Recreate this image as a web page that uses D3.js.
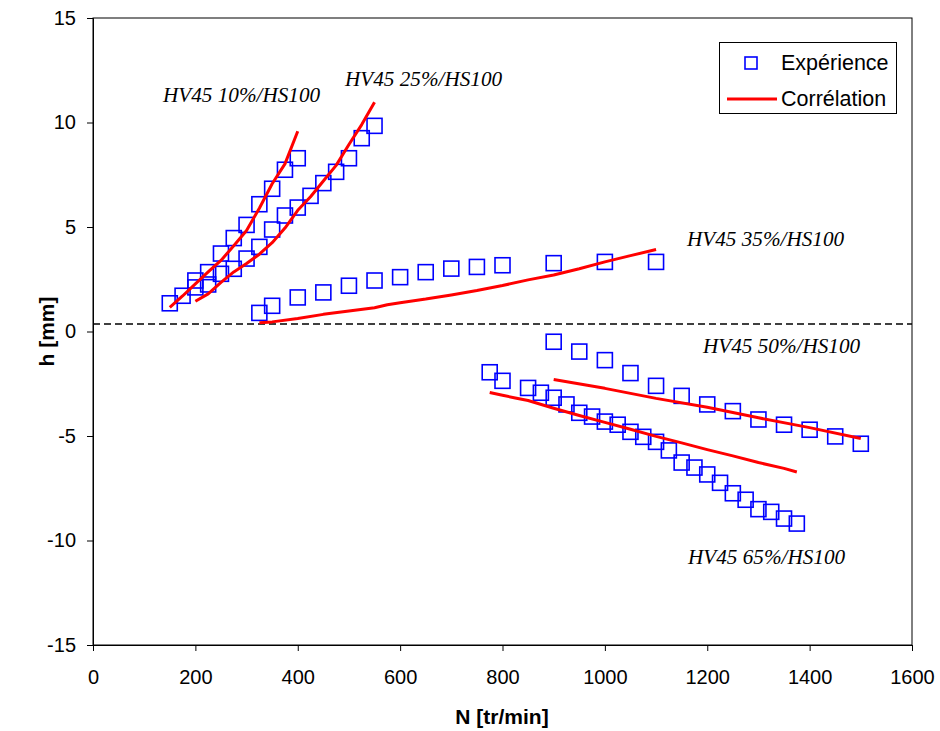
<!DOCTYPE html>
<html><head><meta charset="utf-8">
<script src="https://cdn.jsdelivr.net/npm/d3@7"></script>
<style>body{margin:0;background:#fff}</style>
</head><body>
<svg id="chart" width="940" height="731"></svg>
<script>
// ---- data ----
const xTicks = [0,200,400,600,800,1000,1200,1400,1600];
const yTicks = [-15,-10,-5,0,5,10,15];
const refLevel = 0.36;

const labels10 = "HV45 10%/HS100";
const labels25 = "HV45 25%/HS100";
const labels35 = "HV45 35%/HS100";
const labels50 = "HV45 50%/HS100";
const labels65 = "HV45 65%/HS100";

// Expérience
const exp10N = [150,175,200,225,250,275,300,325,350,375,400];
const exp10H = [1.35,1.71,2.44,2.84,3.73,4.47,5.10,6.09,6.83,7.74,8.29];
const exp25N = [200,225,250,275,300,325,350,375,400,425,450,475,500,525,550];
const exp25H = [2.11,2.25,2.76,3.00,3.49,4.05,4.88,5.55,5.93,6.49,7.10,7.64,8.29,9.25,9.84];
const exp35N = [325,350,400,450,500,550,600,650,700,750,800,900,1000,1100];
const exp35H = [0.89,1.23,1.63,1.87,2.19,2.44,2.60,2.84,3.01,3.09,3.17,3.27,3.33,3.33];
const exp50N = [900,950,1000,1050,1100,1150,1200,1250,1300,1350,1400,1450,1500];
const exp50H = [-0.49,-0.96,-1.37,-1.99,-2.60,-3.08,-3.49,-3.81,-4.21,-4.46,-4.70,-5.02,-5.37];
const exp65N = [775,800,850,875,900,925,950,975,1000,1025,1050,1075,1100,1125,1150,1175,1200,1225,1250,1275,1300,1325,1350,1375];
const exp65H = [-1.95,-2.36,-2.70,-2.93,-3.17,-3.49,-3.89,-4.07,-4.31,-4.46,-4.80,-5.04,-5.28,-5.69,-6.27,-6.51,-6.84,-7.24,-7.74,-8.05,-8.50,-8.63,-8.95,-9.19];

// Corrélation
const cor10N = [150,175,200,225,250,275,300,325,350,375,400];
const cor10H = [1.15,1.70,2.28,2.85,3.40,4.10,4.83,5.90,7.07,8.02,9.58];
const cor25N = [200,225,250,275,300,325,350,375,400,425,450,475,500,525,550];
const cor25H = [1.45,1.80,2.35,2.85,3.25,3.70,4.25,4.95,5.80,6.45,7.20,7.95,8.95,9.90,10.97];
const cor35N = [325,350,400,450,500,550,575,600,650,700,750,800,850,900,950,1000,1050,1100];
const cor35H = [0.42,0.46,0.62,0.82,0.98,1.14,1.28,1.38,1.55,1.75,1.96,2.20,2.47,2.70,3.00,3.33,3.63,3.92];
const cor50N = [900,1000,1100,1200,1300,1400,1500];
const cor50H = [-2.30,-2.72,-3.20,-3.62,-4.13,-4.60,-5.12];
const cor65N = [775,800,825,850,900,950,1000,1050,1100,1150,1200,1250,1300,1350,1375];
const cor65H = [-2.92,-3.05,-3.18,-3.30,-3.67,-4.02,-4.35,-4.68,-5.02,-5.33,-5.65,-5.95,-6.27,-6.55,-6.72];

const legendNames = ["Expérience","Corrélation"];

// ---- chart ----
const W = 940, H = 731;
const m = {left:93, top:18, right:28, bottom:86};
const svg = d3.select("#chart");
const x = d3.scaleLinear().domain([0,1600]).range([m.left, W - m.right]);
const y = d3.scaleLinear().domain([-15,15]).range([H - m.bottom, m.top]);

const zip = (a,b) => a.map((v,i) => [v,b[i]]);
const expSeries = [zip(exp10N,exp10H), zip(exp25N,exp25H), zip(exp35N,exp35H), zip(exp50N,exp50H), zip(exp65N,exp65H)];
const corSeries = [zip(cor10N,cor10H), zip(cor25N,cor25H), zip(cor35N,cor35H), zip(cor50N,cor50H), zip(cor65N,cor65H)];

// frame
svg.append("rect").attr("x", x(0)).attr("y", y(15))
  .attr("width", x(1600)-x(0)).attr("height", y(-15)-y(15))
  .attr("fill","none").attr("stroke","#000").attr("stroke-width",1);

// axes
const fontSans = "Arial, 'Liberation Sans', sans-serif";
const fmt = d => String(d);
const xAxis = svg.append("g").attr("transform",`translate(0,${y(-15)})`)
  .call(d3.axisBottom(x).tickValues(xTicks).tickSize(6).tickPadding(19).tickFormat(fmt));
const yAxis = svg.append("g").attr("transform",`translate(${x(0)},0)`)
  .call(d3.axisLeft(y).tickValues(yTicks).tickSize(6).tickPadding(11).tickFormat(fmt));
[xAxis,yAxis].forEach(g => {
  g.selectAll("path.domain").attr("stroke","#000");
  g.selectAll(".tick line").attr("stroke","#000");
  g.selectAll(".tick text").attr("fill","#000").style("font-family",fontSans).style("font-size","20px");
});

// axis titles
svg.append("text").attr("x", 502).attr("y", 724)
  .attr("text-anchor","middle").style("font-family",fontSans).style("font-size","21px").style("font-weight","bold")
  .text("N [tr/min]");
svg.append("text").attr("transform",`translate(54,${y(0)}) rotate(-90)`)
  .attr("text-anchor","middle").style("font-family",fontSans).style("font-size","21px").style("font-weight","bold")
  .text("h [mm]");

// dashed reference line
svg.append("line").attr("x1",x(0)).attr("x2",x(1600)).attr("y1",y(refLevel)).attr("y2",y(refLevel))
  .attr("stroke","#000").attr("stroke-width",1.4).attr("stroke-dasharray","7,4");

// experiment squares
const sq = 15;
expSeries.forEach(s => {
  svg.append("g").selectAll("rect").data(s).join("rect")
    .attr("x", d => x(d[0]) - sq/2).attr("y", d => y(d[1]) - sq/2)
    .attr("width", sq).attr("height", sq)
    .attr("fill","none").attr("stroke","#0000FF").attr("stroke-width",1.6);
});

// correlation lines
const line = d3.line().x(d => x(d[0])).y(d => y(d[1]));
corSeries.forEach(s => {
  svg.append("path").datum(s).attr("d", line)
    .attr("fill","none").attr("stroke","#FF0000").attr("stroke-width",3).attr("stroke-linejoin","round");
});

// series labels
const fontSerif = "'Times New Roman', 'Liberation Serif', serif";
const lbl = [[labels10,163,102],[labels25,345,86],[labels35,687,246],[labels50,703,353],[labels65,688,564]];
lbl.forEach(([t,lx,ly]) => {
  svg.append("text").attr("x",lx).attr("y",ly).style("font-family",fontSerif)
    .style("font-style","italic").style("font-size","21.2px").attr("fill","#000").text(t);
});

// legend
const lg = svg.append("g");
lg.append("rect").attr("x",719.5).attr("y",42.5).attr("width",177).attr("height",71)
  .attr("fill","#fff").attr("stroke","#000").attr("stroke-width",1);
lg.append("rect").attr("x",745).attr("y",57).attr("width",12).attr("height",12)
  .attr("fill","none").attr("stroke","#0000FF").attr("stroke-width",1.6);
lg.append("line").attr("x1",727).attr("x2",777).attr("y1",99).attr("y2",99)
  .attr("stroke","#FF0000").attr("stroke-width",3);
lg.append("text").attr("x",781).attr("y",70).style("font-family",fontSans).style("font-size","21.5px").text(legendNames[0]);
lg.append("text").attr("x",781).attr("y",106).style("font-family",fontSans).style("font-size","21.5px").text(legendNames[1]);
</script>
</body></html>
